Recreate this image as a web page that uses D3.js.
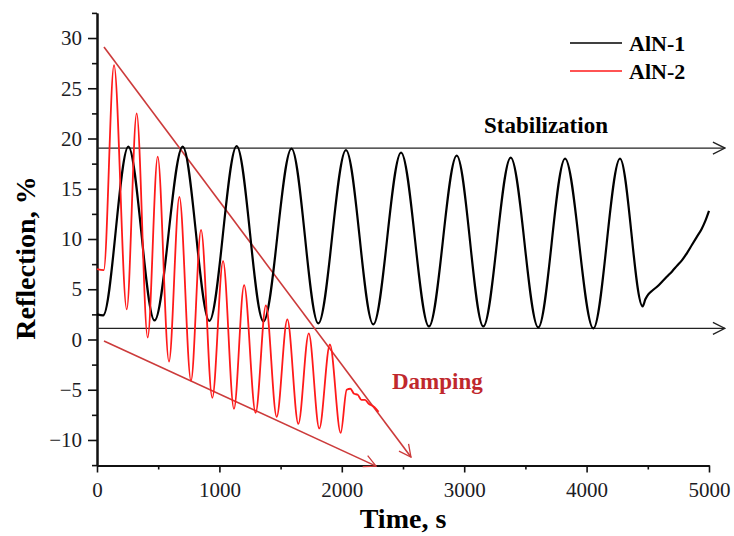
<!DOCTYPE html>
<html><head><meta charset="utf-8">
<script src="https://cdn.jsdelivr.net/npm/d3@7"></script>
<style>body{margin:0;background:#fff}svg{display:block}text{font-family:"Liberation Serif","Times New Roman",serif}</style>
</head><body>
<svg id="chart" width="734" height="536"></svg>
<script>
// ---- data ----
const seriesNames = ["AlN-1", "AlN-2"];

const timeAlN1 = [0, 50, 256, 470, 700, 918, 1141, 1360, 1589, 1808, 2034, 2257, 2484, 2712, 2939, 3156, 3380, 3605, 3824, 4055, 4273, 4458,
  4480, 4504, 4540, 4580, 4620, 4660, 4700, 4736, 4780, 4820, 4860, 4900, 4940, 4970, 5000];
const reflAlN1 = [2.5, 2.4, 19.2, 1.9, 19.2, 1.85, 19.25, 1.8, 19.0, 1.6, 18.85, 1.5, 18.6, 1.3, 18.3, 1.3, 18.1, 1.2, 18.0, 1.1, 18.0, 3.3,
  4.0, 4.5, 4.9, 5.3, 5.8, 6.3, 6.8, 7.3, 7.9, 8.6, 9.4, 10.2, 11.0, 11.8, 12.8];

const timeAlN2 = [0, 55, 139, 243, 324, 414, 496, 588, 673, 768, 850, 942, 1030, 1119, 1202, 1296, 1380, 1468, 1555, 1645, 1730, 1816, 1903, 1991,
  2040, 2070, 2100, 2130, 2160, 2190, 2220, 2250, 2280, 2300];
const reflAlN2 = [7.0, 6.9, 27.3, 3.0, 22.5, 0.2, 18.2, -2.2, 14.2, -4.1, 10.9, -5.8, 7.8, -6.9, 5.4, -7.3, 3.4, -7.7, 2.0, -8.4, 0.6, -8.85, -0.5, -9.3,
  -5.0, -4.9, -5.4, -5.5, -6.0, -6.0, -6.4, -6.6, -6.9, -7.2];

const xTicks = [0, 1000, 2000, 3000, 4000, 5000];
const xMinorTicks = [500, 1500, 2500, 3500, 4500];
const yTicks = [-10, -5, 0, 5, 10, 15, 20, 25, 30];
const yMinorTicks = [-12.5, -7.5, -2.5, 2.5, 7.5, 12.5, 17.5, 22.5, 27.5, 32.5];

// annotation guides: [x1, y1, x2, y2] in data units
const stabilizationLevels = [19.05, 1.1];
const stabilizationEnd = 5130;
const dampingUpper = [57, 29.1, 2565, -11.7];
const dampingLower = [57, -0.15, 2280, -12.6];
const annotationTexts = ["Stabilization", "Damping"];

// ---- drawing ----
const svg = d3.select("#chart");
const x = d3.scaleLinear().domain([0, 5000]).range([97, 709]);
const y = d3.scaleLinear().domain([-12.5, 32.5]).range([465.1, 12.9]);

const defs = svg.append("defs");
function marker(id, color) {
  defs.append("marker").attr("id", id)
    .attr("viewBox", "0 0 14 14").attr("refX", 13).attr("refY", 7)
    .attr("markerWidth", 14).attr("markerHeight", 14)
    .attr("markerUnits", "userSpaceOnUse").attr("orient", "auto")
    .append("path").attr("d", "M1,1 L13,7 L1,13")
    .attr("fill", "none").attr("stroke", color).attr("stroke-width", 1.3);
}
marker("arrBlack", "#222");
marker("arrRed", "#cc3b3b");

const font = "'Liberation Serif','Times New Roman',serif";

// axes
const yAxis = d3.axisLeft(y).tickValues(yTicks).tickSize(9).tickSizeOuter(0).tickPadding(6).tickFormat(d3.format("d"));
const yMinor = d3.axisLeft(y).tickValues(yMinorTicks).tickSize(5).tickSizeOuter(0).tickFormat("");
const xAxis = d3.axisBottom(x).tickValues(xTicks).tickSize(7).tickSizeOuter(0).tickPadding(10).tickFormat(d3.format("d"));
const xMinor = d3.axisBottom(x).tickValues(xMinorTicks).tickSize(4).tickSizeOuter(0).tickFormat("");

function styleAxis(g) {
  g.attr("font-family", font);
  g.selectAll("path.domain").attr("stroke", "#111").attr("stroke-width", 2);
  g.selectAll(".tick line").attr("stroke", "#111").attr("stroke-width", 1.6);
  g.selectAll(".tick text").style("font-family", font).attr("font-size", 21).attr("fill", "#1c1c24");
}
svg.append("g").attr("transform", "translate(97,0)").call(yMinor).call(styleAxis);
svg.append("g").attr("transform", "translate(97,0)").call(yAxis).call(styleAxis);
svg.append("g").attr("transform", "translate(0,465.5)").call(xMinor).call(styleAxis);
svg.append("g").attr("transform", "translate(0,465.5)").call(xAxis).call(styleAxis);

// axis titles
svg.append("text").attr("x", 403).attr("y", 528).attr("text-anchor", "middle")
  .style("font-family", font).attr("font-weight", "bold").attr("font-size", 28).text("Time, s");
svg.append("text").attr("transform", "translate(35,258) rotate(-90)").attr("text-anchor", "middle")
  .style("font-family", font).attr("font-weight", "bold").attr("font-size", 28).text("Reflection, %");

// guide lines
stabilizationLevels.forEach(v => {
  svg.append("line").attr("x1", x(0)).attr("x2", x(stabilizationEnd))
    .attr("y1", y(v)).attr("y2", y(v))
    .attr("stroke", "#222").attr("stroke-width", 1.3).attr("marker-end", "url(#arrBlack)");
});
[dampingUpper, dampingLower].forEach(s => {
  svg.append("line").attr("x1", x(s[0])).attr("y1", y(s[1])).attr("x2", x(s[2])).attr("y2", y(s[3]))
    .attr("stroke", "#cc3b3b").attr("stroke-width", 1.6).attr("marker-end", "url(#arrRed)");
});

// series
const line = d3.line().curve(d3.curveMonotoneX).x(d => x(d[0])).y(d => y(d[1]));
svg.append("path").datum(timeAlN1.map((t, i) => [t, reflAlN1[i]]))
  .attr("d", line).attr("fill", "none").attr("stroke", "#000").attr("stroke-width", 2.2);
svg.append("path").datum(timeAlN2.map((t, i) => [t, reflAlN2[i]]))
  .attr("d", line).attr("fill", "none").attr("stroke", "#ff1a1a").attr("stroke-width", 1.8);

// annotations
svg.append("text").attr("x", 484).attr("y", 133).style("font-family", font).attr("font-weight", "bold")
  .attr("font-size", 23).attr("fill", "#000").text(annotationTexts[0]);
svg.append("text").attr("x", 392).attr("y", 389).style("font-family", font).attr("font-weight", "bold")
  .attr("font-size", 23).attr("fill", "#c0282d").text(annotationTexts[1]);

// legend
const legendColors = ["#000", "#ff1a1a"];
seriesNames.forEach((n, i) => {
  const ly = 43 + i * 28;
  svg.append("line").attr("x1", 570).attr("x2", 622).attr("y1", ly).attr("y2", ly)
    .attr("stroke", legendColors[i]).attr("stroke-width", 1.6);
  svg.append("text").attr("x", 629).attr("y", ly + 8).style("font-family", font).attr("font-weight", "bold")
    .attr("font-size", 22).attr("fill", "#000").text(n);
});
</script>
</body></html>
